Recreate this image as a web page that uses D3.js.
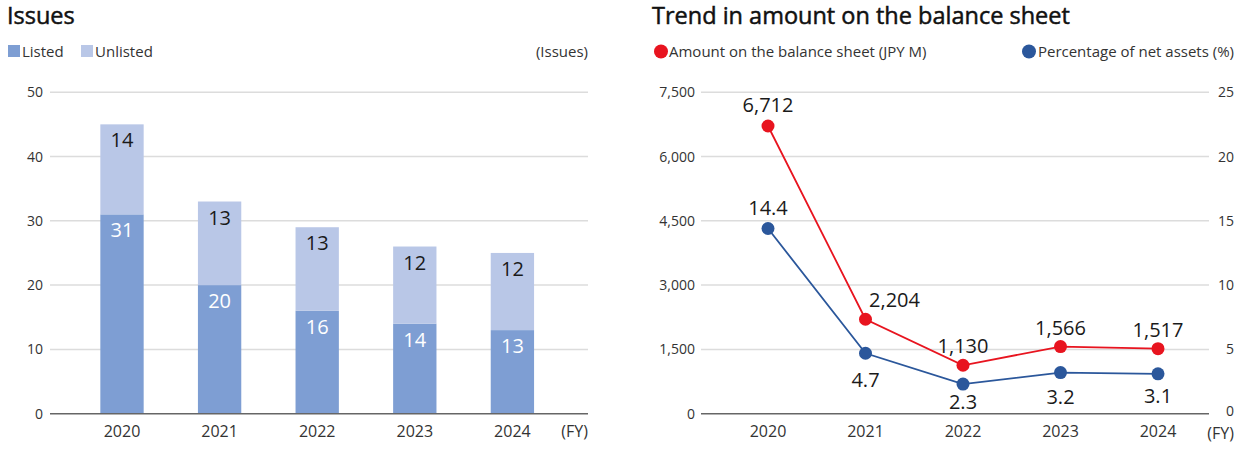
<!DOCTYPE html>
<html lang="en">

<head>
  <meta charset="utf-8">
  <title>Issues / Trend in amount on the balance sheet</title>
  <script src="https://d3js.org/d3.v7.min.js"></script>
  <style>
    body {
      margin: 0;
      background: white;
    }

    text {
      font-family: "Open Sans", "Noto Sans", sans-serif;
      fill: #333;
    }

    .title {
      font-size: 23.5px;
      fill: #111;
      stroke: #111;
      stroke-width: 0.5px;
    }

    .legend, .unit {
      font-size: 15px;
    }

    .tick-label {
      font-size: 14px;
    }

    .year {
      font-size: 16px;
    }

    .value {
      font-size: 20px;
      fill: #1a1a1a;
    }

    .grid {
      stroke: #dcdcdc;
      stroke-width: 1.5;
    }

    .base {
      stroke: #666;
      stroke-width: 1.5;
    }
  </style>
</head>

<body>
  <div id="chart"></div>

  <script>
    // data
    var years = ["2020", "2021", "2022", "2023", "2024"];
    var listed = [31, 20, 16, 14, 13];
    var unlisted = [14, 13, 13, 12, 12];
    var issueTicks = [0, 10, 20, 30, 40, 50];

    var amount = [6712, 2204, 1130, 1566, 1517];
    var pct = [14.4, 4.7, 2.3, 3.2, 3.1];
    var amountTicks = [0, 1500, 3000, 4500, 6000, 7500];
    var pctTicks = [0, 5, 10, 15, 20, 25];

    // label nudges for the line chart (px, relative to the point)
    var amountLabelOffset = [[0, -14], [29, -12], [0, -12], [0, -12], [0, -12]];
    var pctLabelOffset = [[0, -14], [0, 34], [0, 25], [0, 31], [0, 29]];

    var colListed = "#7e9ed3",
      colUnlisted = "#b9c7e7",
      colRed = "#e8141f",
      colBlue = "#2b579b";

    var width = 1250, height = 449;

    var svg = d3.select("#chart")
      .append("svg")
        .attr("width", width)
        .attr("height", height);

    // ---------- left: Issues ----------
    var left = svg.append("g");

    var y1 = d3.scaleLinear().domain([0, 50]).range([413.7, 92.2]);
    var x1 = d3.scaleBand().domain(years).range([73.2, 561.2])
      .paddingInner(0.556).paddingOuter(0.278);

    left.append("text").attr("class", "title").attr("x", 7).attr("y", 24).text("Issues");

    left.append("rect").attr("x", 8).attr("y", 45).attr("width", 12).attr("height", 12).attr("fill", colListed);
    left.append("text").attr("class", "legend").attr("x", 22).attr("y", 57).text("Listed");
    left.append("rect").attr("x", 81).attr("y", 45).attr("width", 12).attr("height", 12).attr("fill", colUnlisted);
    left.append("text").attr("class", "legend").attr("x", 95).attr("y", 57).text("Unlisted");
    left.append("text").attr("class", "unit").attr("x", 588).attr("y", 57)
      .attr("text-anchor", "end").text("(Issues)");

    left.selectAll(".grid")
      .data(issueTicks.slice(1))
      .enter()
      .append("line")
        .attr("class", "grid")
        .attr("x1", 50).attr("x2", 588)
        .attr("y1", function(d) { return y1(d); })
        .attr("y2", function(d) { return y1(d); });

    left.selectAll(".tick-label")
      .data(issueTicks)
      .enter()
      .append("text")
        .attr("class", "tick-label")
        .attr("x", 43)
        .attr("y", function(d) { return y1(d) + 5; })
        .attr("text-anchor", "end")
        .text(function(d) { return d; });

    left.selectAll(".bar-listed")
      .data(listed)
      .enter()
      .append("rect")
        .attr("class", "bar-listed")
        .attr("x", function(d, i) { return x1(years[i]); })
        .attr("width", x1.bandwidth())
        .attr("y", function(d) { return y1(d); })
        .attr("height", function(d) { return y1(0) - y1(d); })
        .attr("fill", colListed);

    left.selectAll(".bar-unlisted")
      .data(unlisted)
      .enter()
      .append("rect")
        .attr("class", "bar-unlisted")
        .attr("x", function(d, i) { return x1(years[i]); })
        .attr("width", x1.bandwidth())
        .attr("y", function(d, i) { return y1(listed[i] + d); })
        .attr("height", function(d, i) { return y1(listed[i]) - y1(listed[i] + d); })
        .attr("fill", colUnlisted);

    left.append("line").attr("class", "base")
      .attr("x1", 50).attr("x2", 588)
      .attr("y1", y1(0)).attr("y2", y1(0));

    left.selectAll(".lab-listed")
      .data(listed)
      .enter()
      .append("text")
        .attr("class", "value")
        .attr("x", function(d, i) { return x1(years[i]) + x1.bandwidth() / 2; })
        .attr("y", function(d) { return y1(d) + 23; })
        .attr("text-anchor", "middle")
        .style("fill", "white")
        .text(function(d) { return d; });

    left.selectAll(".lab-unlisted")
      .data(unlisted)
      .enter()
      .append("text")
        .attr("class", "value")
        .attr("x", function(d, i) { return x1(years[i]) + x1.bandwidth() / 2; })
        .attr("y", function(d, i) { return y1(listed[i] + d) + 23; })
        .attr("text-anchor", "middle")
        .text(function(d) { return d; });

    left.selectAll(".year")
      .data(years)
      .enter()
      .append("text")
        .attr("class", "year")
        .attr("x", function(d) { return x1(d) + x1.bandwidth() / 2; })
        .attr("y", 437)
        .attr("text-anchor", "middle")
        .text(function(d) { return d; });

    left.append("text").attr("class", "year").attr("x", 588).attr("y", 437)
      .attr("text-anchor", "end").text("(FY)");

    // ---------- right: balance sheet ----------
    var right = svg.append("g");

    var yA = d3.scaleLinear().domain([0, 7500]).range([413.7, 92.2]);
    var yP = d3.scaleLinear().domain([0, 25]).range([413.7, 92.2]);
    var x2 = d3.scalePoint().domain(years).range([768, 1158]);

    right.append("text").attr("class", "title").attr("x", 652).attr("y", 24)
      .text("Trend in amount on the balance sheet");

    right.append("circle").attr("cx", 661).attr("cy", 51.5).attr("r", 7).attr("fill", colRed);
    right.append("text").attr("class", "legend").attr("x", 669).attr("y", 57)
      .text("Amount on the balance sheet (JPY M)");
    right.append("circle").attr("cx", 1029).attr("cy", 51.5).attr("r", 7).attr("fill", colBlue);
    right.append("text").attr("class", "legend").attr("x", 1234).attr("y", 57)
      .attr("text-anchor", "end").text("Percentage of net assets (%)");

    right.selectAll(".grid")
      .data(amountTicks.slice(1))
      .enter()
      .append("line")
        .attr("class", "grid")
        .attr("x1", 701).attr("x2", 1209)
        .attr("y1", function(d) { return yA(d); })
        .attr("y2", function(d) { return yA(d); });

    right.append("line").attr("class", "base")
      .attr("x1", 701).attr("x2", 1209)
      .attr("y1", yA(0)).attr("y2", yA(0));

    right.selectAll(".tick-left")
      .data(amountTicks)
      .enter()
      .append("text")
        .attr("class", "tick-label")
        .attr("x", 695)
        .attr("y", function(d) { return yA(d) + 5; })
        .attr("text-anchor", "end")
        .text(function(d) { return d3.format(",")(d); });

    right.selectAll(".tick-right")
      .data(pctTicks)
      .enter()
      .append("text")
        .attr("class", "tick-label")
        .attr("x", 1234)
        .attr("y", function(d) { return yP(d) + (d === 0 ? 2 : 5); })
        .attr("text-anchor", "end")
        .text(function(d) { return d; });

    var lineA = d3.line()
      .x(function(d, i) { return x2(years[i]); })
      .y(function(d) { return yA(d); });

    var lineP = d3.line()
      .x(function(d, i) { return x2(years[i]); })
      .y(function(d) { return yP(d); });

    right.append("path").attr("d", lineA(amount))
      .attr("fill", "none").attr("stroke", colRed).attr("stroke-width", 1.8);
    right.append("path").attr("d", lineP(pct))
      .attr("fill", "none").attr("stroke", colBlue).attr("stroke-width", 1.8);

    right.selectAll(".pt-a")
      .data(amount)
      .enter()
      .append("circle")
        .attr("cx", function(d, i) { return x2(years[i]); })
        .attr("cy", function(d) { return yA(d); })
        .attr("r", 6.5)
        .attr("fill", colRed);

    right.selectAll(".pt-p")
      .data(pct)
      .enter()
      .append("circle")
        .attr("cx", function(d, i) { return x2(years[i]); })
        .attr("cy", function(d) { return yP(d); })
        .attr("r", 6.5)
        .attr("fill", colBlue);

    right.selectAll(".lab-a")
      .data(amount)
      .enter()
      .append("text")
        .attr("class", "value")
        .attr("x", function(d, i) { return x2(years[i]) + amountLabelOffset[i][0]; })
        .attr("y", function(d, i) { return yA(d) + amountLabelOffset[i][1]; })
        .attr("text-anchor", "middle")
        .text(function(d) { return d3.format(",")(d); });

    right.selectAll(".lab-p")
      .data(pct)
      .enter()
      .append("text")
        .attr("class", "value")
        .attr("x", function(d, i) { return x2(years[i]) + pctLabelOffset[i][0]; })
        .attr("y", function(d, i) { return yP(d) + pctLabelOffset[i][1]; })
        .attr("text-anchor", "middle")
        .text(function(d) { return d3.format(".1f")(d); });

    right.selectAll(".year2")
      .data(years)
      .enter()
      .append("text")
        .attr("class", "year")
        .attr("x", function(d) { return x2(d); })
        .attr("y", 437)
        .attr("text-anchor", "middle")
        .text(function(d) { return d; });

    right.append("text").attr("class", "year").attr("x", 1234).attr("y", 439)
      .attr("text-anchor", "end").text("(FY)");
  </script>
</body>

</html>
